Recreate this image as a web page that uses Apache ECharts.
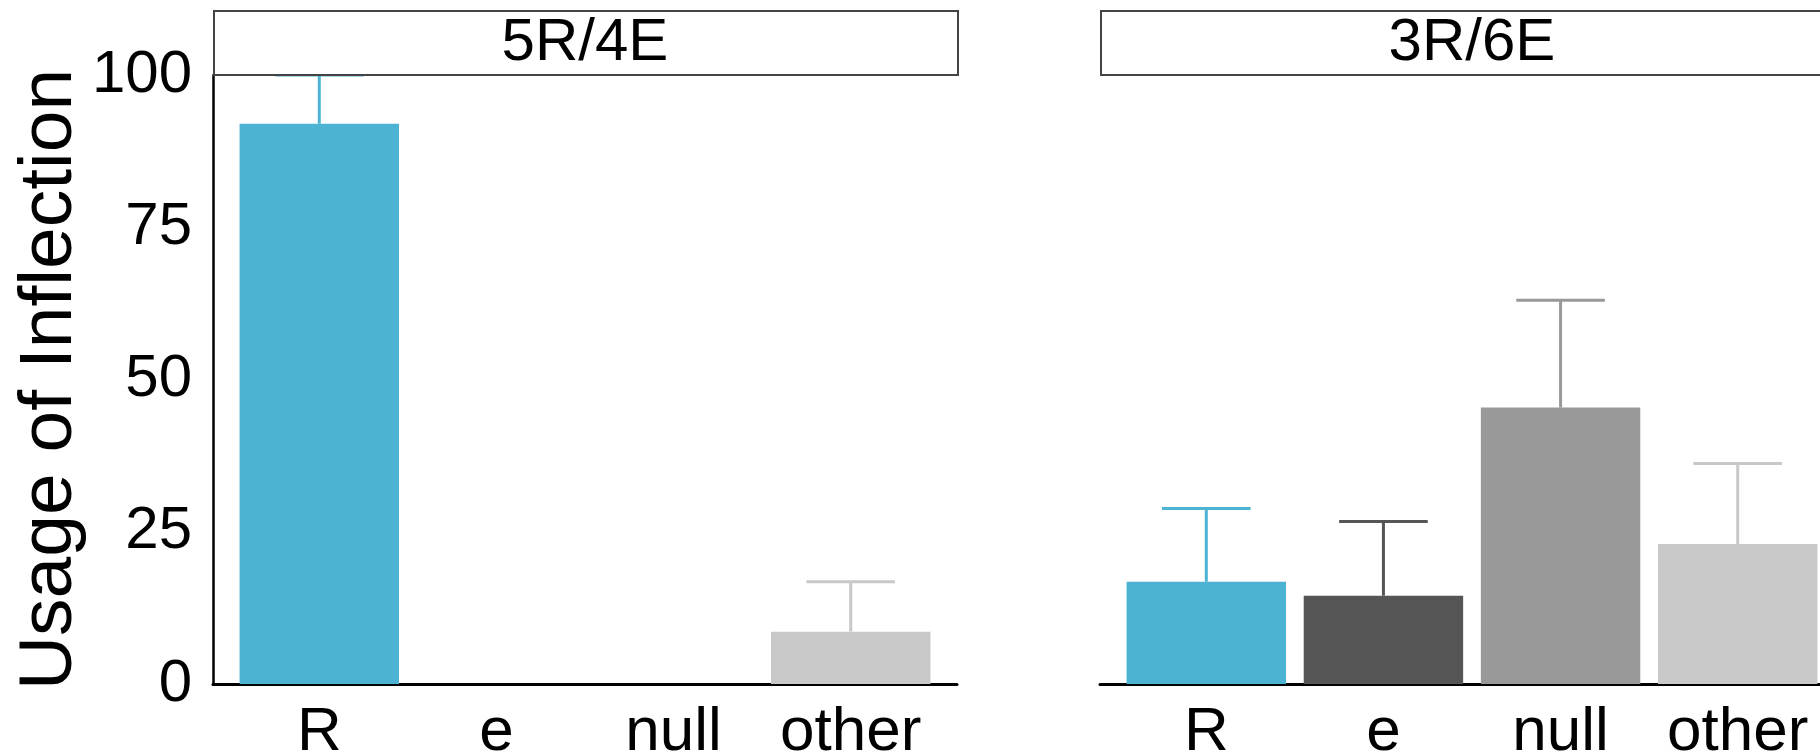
<!DOCTYPE html>
<html>
<head>
<meta charset="utf-8">
<script src="https://cdn.jsdelivr.net/npm/echarts@6/dist/echarts.min.js"></script>
<style>
html,body{margin:0;padding:0;background:#fff;}
#chart{width:1820px;height:756px;}
</style>
</head>
<body>
<div id="chart"></div>
<script>
// ---- data ----
const categories = ['R', 'e', 'null', 'other'];
const panelLabels = ['5R/4E', '3R/6E'];
const mean5R4E = [92.0, 0, 0, 8.6];
const upper5R4E = [100.0, 0, 0, 16.8];
const mean3R6E = [16.8, 14.5, 45.4, 23.0];
const upper3R6E = [28.8, 26.7, 63.0, 36.2];
const yTicks = [0, 25, 50, 75, 100];
const yTitle = 'Usage of Inflection';

// ---- styles / layout ----
const barColors = ['#4db3d3', '#555555', '#999999', '#c8c8c8'];
const FONT = 'Liberation Sans, Arial, Helvetica, sans-serif';
const PANEL_W = 744;
const PANEL_LEFTS = [213, 1100];
const PLOT_TOP = 75, PLOT_H = 609;
const STRIP_TOP = 10, STRIP_H = 64;

function rows(means, uppers) {
  return categories.map((c, i) => [i, means[i], uppers[i], i]);
}

function renderItem(params, api) {
  const x = api.value(0), y = api.value(1), up = api.value(2), ci = api.value(3);
  const color = barColors[ci];
  const base = api.coord([x, 0]);
  const top = api.coord([x, y]);
  const w = api.size([0.9, 0])[0];
  const capW = api.size([0.5, 0])[0];
  const children = [];
  if (y > 0) {
    children.push({
      type: 'rect',
      shape: { x: base[0] - w / 2, y: top[1], width: w, height: base[1] - top[1] },
      style: { fill: color }
    });
  }
  if (up > y) {
    const u = api.coord([x, up]);
    children.push({
      type: 'line',
      shape: { x1: top[0], y1: top[1], x2: u[0], y2: u[1] },
      style: { stroke: color, lineWidth: 3 }
    });
    children.push({
      type: 'line',
      shape: { x1: u[0] - capW / 2, y1: u[1], x2: u[0] + capW / 2, y2: u[1] },
      style: { stroke: color, lineWidth: 3 }
    });
  }
  return { type: 'group', children };
}

const grids = PANEL_LEFTS.map(l => ({
  left: l, top: PLOT_TOP, width: PANEL_W, height: PLOT_H,
  containLabel: false, outerBoundsMode: 'none'
}));

const xAxes = PANEL_LEFTS.map((l, gi) => ({
  type: 'value', gridIndex: gi, min: -0.6, max: 3.6,
  axisLine: { show: true, onZero: false, lineStyle: { color: '#000', width: 3 } },
  axisTick: { show: false },
  splitLine: { show: false },
  axisLabel: {
    customValues: categories.map((c, i) => i),
    formatter: v => categories[Math.round(v)],
    fontSize: 62, fontFamily: FONT, color: '#000', margin: 18
  }
}));

const yAxes = PANEL_LEFTS.map((l, gi) => ({
  type: 'value', gridIndex: gi, min: yTicks[0], max: yTicks[yTicks.length - 1], interval: 25,
  show: gi === 0,
  axisLine: { show: true, onZero: false, lineStyle: { color: '#000', width: 2.5 } },
  axisTick: { show: false },
  splitLine: { show: false },
  axisLabel: { fontSize: 60, fontFamily: FONT, color: '#000', margin: 21 },
  name: gi === 0 ? yTitle : '',
  nameLocation: 'middle', nameRotate: 90, nameGap: 117,
  nameTextStyle: { fontSize: 75, fontFamily: FONT, color: '#000' }
}));

const graphics = [];
PANEL_LEFTS.forEach((l, i) => {
  graphics.push({
    type: 'rect', left: l, top: STRIP_TOP, z: 10,
    shape: { width: PANEL_W, height: STRIP_H },
    style: { fill: '#fff', stroke: '#444', lineWidth: 2 }
  });
  graphics.push({
    type: 'text', x: l + PANEL_W / 2, y: STRIP_TOP + STRIP_H / 2 + 1, z: 11,
    style: { text: panelLabels[i], fontSize: 60, fontFamily: FONT, fill: '#000', align: 'center', verticalAlign: 'middle' }
  });
});

const option = {
  animation: false,
  backgroundColor: '#fff',
  grid: grids,
  xAxis: xAxes,
  yAxis: yAxes,
  graphic: graphics,
  series: [
    { type: 'custom', xAxisIndex: 0, yAxisIndex: 0, clip: false, renderItem, data: rows(mean5R4E, upper5R4E), z: 5 },
    { type: 'custom', xAxisIndex: 1, yAxisIndex: 1, clip: false, renderItem, data: rows(mean3R6E, upper3R6E), z: 5 }
  ]
};

const chart = echarts.init(document.getElementById('chart'), null, { renderer: 'canvas' });
chart.setOption(option);
</script>
</body>
</html>
